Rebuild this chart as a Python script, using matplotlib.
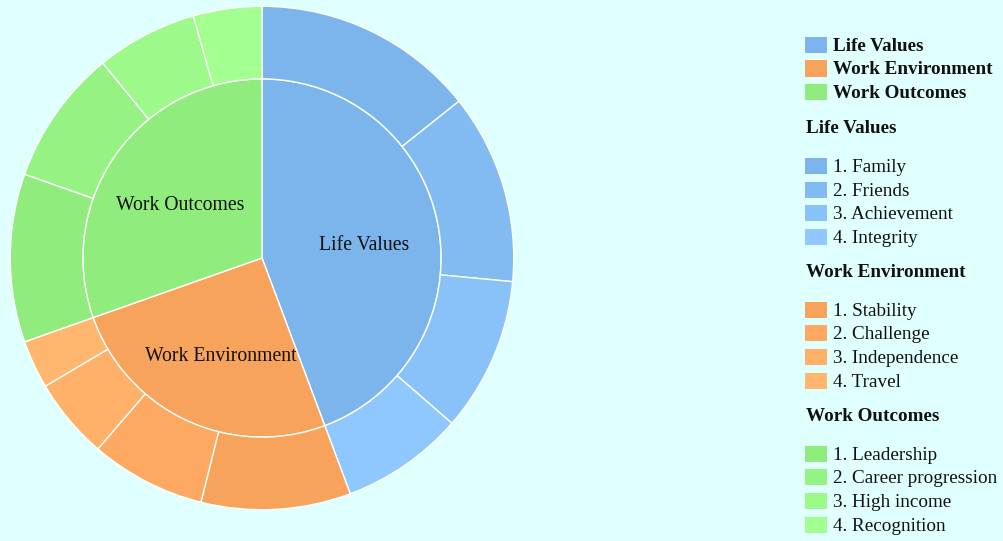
import matplotlib.pyplot as plt
from matplotlib.patches import Rectangle

# groups and their sub-items (share of the whole, in percent)
groups = ["Life Values", "Work Environment", "Work Outcomes"]
group_colors = ["#7cb5ec", "#f7a35c", "#90ed7d"]

items = [
    ["1. Family", "2. Friends", "3. Achievement", "4. Integrity"],
    ["1. Stability", "2. Challenge", "3. Independence", "4. Travel"],
    ["1. Leadership", "2. Career progression", "3. High income", "4. Recognition"],
]
item_values = [
    [14.3, 12.2, 9.9, 7.9],
    [9.6, 7.4, 5.2, 3.1],
    [10.8, 8.7, 6.5, 4.4],
]

bg = "#e0ffff"
txt = "#111111"
plt.rcParams['font.family'] = ['Liberation Serif', 'DejaVu Serif']


def brighten(hexcol, amount):
    r, g, b = (int(hexcol[i:i + 2], 16) for i in (1, 3, 5))
    step = round(amount * 255)
    return "#%02x%02x%02x" % tuple(min(255, c + step) for c in (r, g, b))


def main():
    W, H = 1004, 541
    fig = plt.figure(figsize=(W / 100, H / 100), dpi=100, facecolor=bg)

    # pie centred at (262, 258) px, outer radius 253 px
    cx, cy, R = 262, 258, 253
    ax = fig.add_axes([(cx - R) / W, (H - cy - R) / H, 2 * R / W, 2 * R / H])
    ax.set_facecolor(bg)

    inner_vals = [sum(v) for v in item_values]
    outer_vals = [v for grp in item_values for v in grp]
    outer_cols = [brighten(c, 0.025 * j)
                  for c, grp in zip(group_colors, item_values)
                  for j in range(len(grp))]

    inner_r = 180 / R
    _, labels = ax.pie(inner_vals, radius=inner_r, colors=group_colors, startangle=90,
                       counterclock=False, labels=groups, labeldistance=0.57,
                       wedgeprops=dict(edgecolor="white", linewidth=1.0),
                       textprops=dict(ha="center", va="center", fontsize=14.2, color=txt))
    for t in labels:
        x, y = t.get_position()
        t.set_position((x + 2 / R, y - 6 / R))
    ax.pie(outer_vals, radius=1.0, colors=outer_cols, startangle=90,
           counterclock=False,
           wedgeprops=dict(width=1.0 - inner_r, edgecolor="white", linewidth=1.0))
    ax.set_xlim(-1.005, 1.005)
    ax.set_ylim(-1.005, 1.005)
    ax.set_aspect("equal")
    ax.axis("off")

    # legend on the right, drawn in pixel positions
    def px(x, y):
        return x / W, 1 - y / H

    def swatch(y, col):
        x0, y0 = px(805, y + 8)
        fig.patches.append(Rectangle((x0, y0), 22 / W, 16 / H, transform=fig.transFigure,
                                     facecolor=col, edgecolor="none"))

    fs = 13.8
    dy = 1.5  # text sits a touch below the swatch centre
    y = 45
    for g, c in zip(groups, group_colors):
        swatch(y, c)
        fig.text(*px(833, y + dy), g, fontsize=fs, fontweight="bold", color=txt, va="center")
        y += 23.5

    y = 127
    for g, c, names, vals in zip(groups, group_colors, items, item_values):
        fig.text(*px(806, y + dy), g, fontsize=fs, fontweight="bold", color=txt, va="center")
        y += 39
        for j, name in enumerate(names):
            swatch(y, brighten(c, 0.025 * j))
            fig.text(*px(833, y + dy), name, fontsize=fs, color=txt, va="center")
            y += 23.7
        y += 10

    fig.savefig("out.png", dpi=100, facecolor=bg)


if __name__ == '__main__':
    main()
